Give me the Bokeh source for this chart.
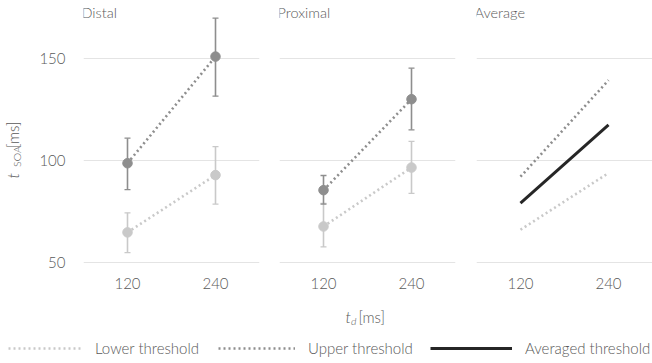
from math import pi
from bokeh.plotting import figure
from bokeh.models import (FactorRange, Range1d, FixedTicker, ColumnDataSource, Whisker,
                          TeeHead, Label, Legend, LegendItem)
from bokeh.layouts import column, row
from bokeh.embed import file_html
from bokeh.resources import INLINE
from bokeh.core.properties import value

# ---------------- data ----------------
td = ["120", "240"]
panels = ["Distal", "Proximal", "Average"]

distal_lower = [64.9, 93.0]
distal_lower_lo = [55.0, 78.8]
distal_lower_hi = [74.5, 107.0]
distal_upper = [98.8, 151.1]
distal_upper_lo = [85.9, 131.7]
distal_upper_hi = [111.1, 170.0]

prox_lower = [67.8, 96.7]
prox_lower_lo = [57.8, 84.0]
prox_lower_hi = [79.1, 109.5]
prox_upper = [85.6, 130.2]
prox_upper_lo = [78.8, 115.2]
prox_upper_hi = [92.8, 145.4]

avg_lower = [66.2, 94.0]
avg_upper = [92.2, 139.5]
avg_mean = [79.2, 117.6]

y_ticks = [50, 100, 150]
series_names = ["Lower threshold", "Upper threshold", "Averaged threshold"]

# ---------------- style ----------------
FONT = "Lato Light"
TXT = "#595959"
C_LOW = "#c9c9c9"
C_UP = "#8e8e8e"
C_AVG = "#262626"
GRID = "#e4e4e4"
DASH = "2 3"
NAN = float("nan")

y_range = Range1d(47.2, 178.6)


def make_panel(title, left, right, with_yaxis):
    p = figure(x_range=FactorRange(*td, range_padding=0), y_range=y_range,
               frame_width=176, frame_height=268,
               min_border_left=left, min_border_right=right,
               min_border_top=0, min_border_bottom=30,
               y_axis_location="left" if with_yaxis else None,
               toolbar_location=None, output_backend="svg")
    p.outline_line_color = None
    p.xgrid.visible = False
    p.ygrid.ticker = FixedTicker(ticks=y_ticks)
    p.ygrid.grid_line_color = GRID
    p.ygrid.grid_line_width = 1
    for ax in p.xaxis:
        ax.axis_line_color = None
        ax.major_tick_line_color = None
        ax.minor_tick_line_color = None
        ax.major_label_standoff = 3
        ax.major_label_text_font = FONT
        ax.major_label_text_font_size = "15px"
        ax.major_label_text_color = TXT
    if with_yaxis:
        ax = p.yaxis[0]
        ax.ticker = FixedTicker(ticks=y_ticks)
        ax.axis_line_color = None
        ax.major_tick_line_color = None
        ax.minor_tick_line_color = None
        ax.major_label_standoff = 12
        ax.major_label_text_font = FONT
        ax.major_label_text_font_size = "15px"
        ax.major_label_text_color = TXT
    p.add_layout(Label(x=-2, y=256, x_units="screen", y_units="screen", text=title,
                       text_font=FONT, text_font_size="14.5px", text_color=TXT,
                       text_baseline="middle", text_align="left"))
    return p


def add_series(p, mean, lo, hi, color):
    src = ColumnDataSource(dict(x=td, y=mean, lo=lo, hi=hi))
    w = Whisker(source=src, base="x", upper="hi", lower="lo", dimension="height",
                line_color=color, line_width=1.6,
                upper_head=TeeHead(size=6, line_color=color, line_width=1.3),
                lower_head=TeeHead(size=6, line_color=color, line_width=1.3))
    p.add_layout(w)
    p.line("x", "y", source=src, line_color=color, line_width=2.6, line_dash=DASH)
    p.scatter("x", "y", source=src, size=9.5, fill_color=color, line_color=color)


# ---------------- left strip: y label t_SOA [ms] ----------------
pl = figure(width=30, height=298, x_range=Range1d(0, 30), y_range=Range1d(0, 298),
            min_border=0, x_axis_location=None, y_axis_location=None,
            toolbar_location=None, output_backend="svg")
pl.outline_line_color = None
pl.grid.visible = False
pl.text(x=[12], y=[100], text=["t"], angle=pi / 2,
        text_font=value(FONT), text_font_style="italic", text_font_size="16px",
        text_color=TXT, text_baseline="middle", text_align="left")
pl.text(x=[16], y=[113], text=["SOA"], angle=pi / 2,
        text_font=value(FONT), text_font_size="10.5px",
        text_color=TXT, text_baseline="middle", text_align="left")
pl.text(x=[12], y=[134], text=["[ms]"], angle=pi / 2,
        text_font=value(FONT), text_font_size="15px",
        text_color=TXT, text_baseline="middle", text_align="left")

p1 = make_panel(panels[0], 53, 10, True)
add_series(p1, distal_lower, distal_lower_lo, distal_lower_hi, C_LOW)
add_series(p1, distal_upper, distal_upper_lo, distal_upper_hi, C_UP)

p2 = make_panel(panels[1], 10, 10, False)
add_series(p2, prox_lower, prox_lower_lo, prox_lower_hi, C_LOW)
add_series(p2, prox_upper, prox_upper_lo, prox_upper_hi, C_UP)

p3 = make_panel(panels[2], 11, 0, False)
p3.line(td, avg_lower, line_color=C_LOW, line_width=2.6, line_dash=DASH)
p3.line(td, avg_upper, line_color=C_UP, line_width=2.6, line_dash=DASH)
p3.line(td, avg_mean, line_color=C_AVG, line_width=3)

# ---------------- bottom strip: x label + legend ----------------
pb = figure(width=652, height=65, x_range=Range1d(0, 652), y_range=Range1d(0, 65),
            min_border=0, x_axis_location=None, y_axis_location=None,
            toolbar_location=None, output_backend="svg")
pb.outline_line_color = None
pb.grid.visible = False

pb.add_layout(Label(x=345, y=47, x_units="screen", y_units="screen", text="t",
                    text_font=FONT, text_font_style="italic", text_font_size="16px",
                    text_color=TXT, text_baseline="middle", text_align="left"))
pb.add_layout(Label(x=350.5, y=43, x_units="screen", y_units="screen", text="d",
                    text_font=FONT, text_font_style="italic", text_font_size="10.5px",
                    text_color=TXT, text_baseline="middle", text_align="left"))
pb.add_layout(Label(x=358, y=47, x_units="screen", y_units="screen", text="[ms]",
                    text_font=FONT, text_font_size="15px",
                    text_color=TXT, text_baseline="middle", text_align="left"))

r_low = pb.line(x=[NAN], y=[NAN], line_color=C_LOW, line_width=2.4, line_dash=DASH)
r_up = pb.line(x=[NAN], y=[NAN], line_color=C_UP, line_width=2.4, line_dash=DASH)
r_avg = pb.line(x=[NAN], y=[NAN], line_color=C_AVG, line_width=3)

for name, r, x0, gw in [(series_names[0], r_low, 8, 74),
                        (series_names[1], r_up, 218, 77),
                        (series_names[2], r_avg, 430, 82)]:
    leg = Legend(items=[LegendItem(label=name, renderers=[r])], location=(x0, 5),
                 orientation="horizontal", padding=0, margin=0, border_line_color=None,
                 background_fill_alpha=0, glyph_width=gw, glyph_height=20,
                 label_standoff=13, label_text_font=FONT, label_text_font_size="15px",
                 label_text_color=TXT)
    pb.add_layout(leg)

layout = column(row(pl, p1, p2, p3, spacing=0), pb, spacing=0)

open("out.html", "w").write(file_html(layout, INLINE))
